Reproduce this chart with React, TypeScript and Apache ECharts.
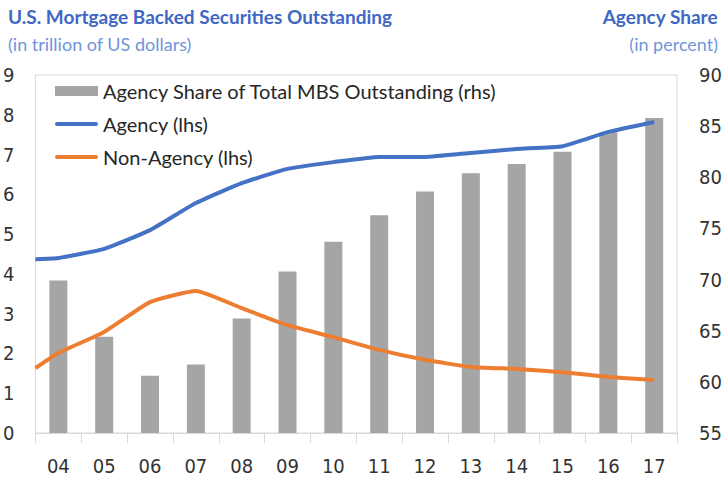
import React, { useEffect, useRef } from "react";
import * as echarts from "echarts";

const categories = ["04", "05", "06", "07", "08", "09", "10", "11", "12", "13", "14", "15", "16", "17"];
// Agency share of total MBS outstanding, percent (rhs)
const agencyShare = [69.9, 64.4, 60.6, 61.7, 66.2, 70.8, 73.7, 76.3, 78.6, 80.4, 81.3, 82.5, 84.4, 85.8];
// Agency MBS outstanding, trillion USD (lhs)
const agency = [4.4, 4.63, 5.1, 5.78, 6.28, 6.64, 6.81, 6.94, 6.94, 7.04, 7.14, 7.21, 7.57, 7.82];
// Non-agency MBS outstanding, trillion USD (lhs)
const nonAgency = [2.01, 2.54, 3.29, 3.57, 3.14, 2.71, 2.41, 2.09, 1.84, 1.66, 1.61, 1.53, 1.41, 1.33];
// values where the lines enter the plot at its left edge
const agencyStart = 4.37;
const nonAgencyStart = 1.63;

const leftMin = 0, leftMax = 9, leftStep = 1;
const rightMin = 55, rightMax = 90, rightStep = 5;

const AXIS_FONT = "'Liberation Sans Narrow', 'DejaVu Sans Condensed', sans-serif";
const TEXT_FONT = "Lato, 'Noto Sans', sans-serif";
const LINE_ICON = "path://M2,0L41,0A2,2 0 0 1 41,4L2,4A2,2 0 0 1 2,0Z";

function toLine(start: number, vals: number[]) {
  const pts: [number, number][] = [[-0.5, start]];
  vals.forEach((v, i) => pts.push([i, v]));
  return pts;
}

export default function App() {
  const ref = useRef<HTMLDivElement>(null);
  useEffect(() => {
    if (!ref.current) return;
    const chart = echarts.init(ref.current, undefined, { renderer: "svg" });
    const blue = "#4472C4";
    const orange = "#ED7D31";
    const grey = "#A5A5A5";
    chart.setOption({
      animation: false,
      backgroundColor: "#ffffff",
      grid: {
        left: 27,
        right: 42,
        top: 75,
        bottom: 46,
        containLabel: false,
        show: true,
        borderColor: "#D9D9D9",
        borderWidth: 1,
      },
      graphic: [
        {
          type: "text",
          left: 8,
          top: 7,
          style: {
            text: "U.S. Mortgage Backed Securities Outstanding",
            font: `bold 19px ${TEXT_FONT}`,
            fill: "#3F67C4",
          },
        },
        {
          type: "text",
          left: 8,
          top: 35,
          style: {
            text: "(in trillion of US dollars)",
            font: `18px ${TEXT_FONT}`,
            fill: "#7095DA",
          },
        },
        {
          type: "text",
          right: 7,
          top: 7,
          style: {
            text: "Agency Share",
            font: `bold 19px ${TEXT_FONT}`,
            fill: "#3F67C4",
          },
        },
        {
          type: "text",
          right: 7,
          top: 35,
          style: {
            text: "(in percent)",
            font: `18px ${TEXT_FONT}`,
            fill: "#7095DA",
          },
        },
      ],
      legend: {
        orient: "vertical",
        left: 55,
        top: 81,
        padding: 0,
        itemWidth: 43,
        itemHeight: 10,
        itemGap: 13,
        symbolKeepAspect: true,
        textStyle: { fontFamily: TEXT_FONT, fontSize: 20, color: "#262626" },
        data: [
          { name: "Agency Share of Total MBS Outstanding (rhs)", icon: "rect" },
          { name: "Agency (lhs)", icon: LINE_ICON },
          { name: "Non-Agency (lhs)", icon: LINE_ICON },
        ],
      },
      xAxis: [
        {
          type: "category",
          data: categories,
          boundaryGap: true,
          axisLine: { lineStyle: { color: "#D9D9D9", width: 1 } },
          axisTick: { show: true, alignWithLabel: false, length: 10, lineStyle: { color: "#D9D9D9" } },
          axisLabel: { margin: 23, lineHeight: 20, fontFamily: AXIS_FONT, fontSize: 20, color: "#333333" },
          splitLine: { show: false },
        },
        {
          type: "value",
          min: -0.5,
          max: 13.5,
          show: false,
          splitLine: { show: false },
        },
      ],
      yAxis: [
        {
          type: "value",
          min: leftMin,
          max: leftMax,
          interval: leftStep,
          position: "left",
          axisLine: { show: false },
          axisTick: { show: false },
          splitLine: { show: false },
          axisLabel: { margin: 21, fontFamily: AXIS_FONT, fontSize: 20, color: "#333333" },
        },
        {
          type: "value",
          min: rightMin,
          max: rightMax,
          interval: rightStep,
          position: "right",
          axisLine: { show: false },
          axisTick: { show: false },
          splitLine: { show: false },
          axisLabel: { margin: 22, fontFamily: AXIS_FONT, fontSize: 20, color: "#333333" },
        },
      ],
      series: [
        {
          name: "Agency Share of Total MBS Outstanding (rhs)",
          type: "bar",
          xAxisIndex: 0,
          yAxisIndex: 1,
          data: agencyShare,
          barWidth: 18,
          itemStyle: { color: grey },
          z: 1,
        },
        {
          name: "Agency (lhs)",
          type: "line",
          xAxisIndex: 1,
          yAxisIndex: 0,
          data: toLine(agencyStart, agency),
          smooth: 0.15,
          symbol: "none",
          lineStyle: { color: blue, width: 4 },
          itemStyle: { color: blue },
          z: 3,
        },
        {
          name: "Non-Agency (lhs)",
          type: "line",
          xAxisIndex: 1,
          yAxisIndex: 0,
          data: toLine(nonAgencyStart, nonAgency),
          smooth: 0.15,
          symbol: "none",
          lineStyle: { color: orange, width: 4 },
          itemStyle: { color: orange },
          z: 3,
        },
      ],
    });
    return () => chart.dispose();
  }, []);
  return (
    <div
      ref={ref}
      style={{ position: "fixed", left: 0, top: 0, width: 725, height: 479 }}
    />
  );
}
